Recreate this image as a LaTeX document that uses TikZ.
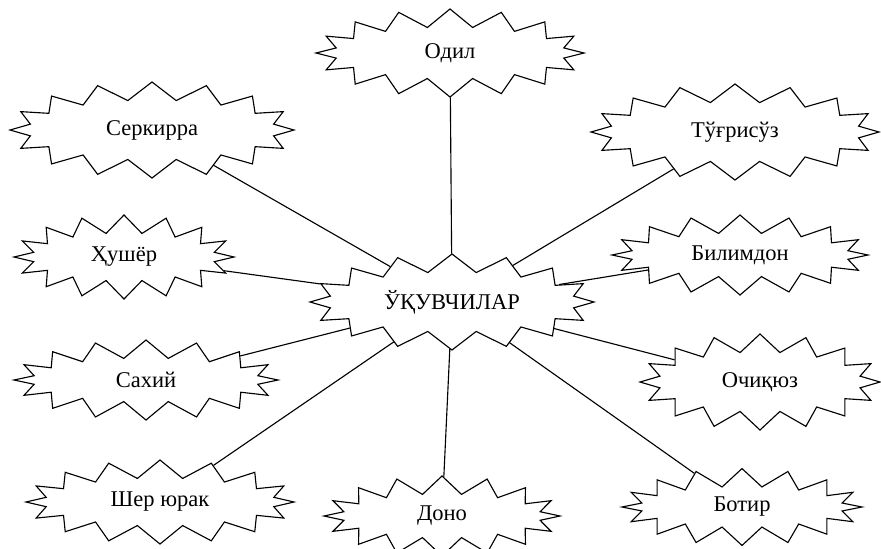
\documentclass[tikz,border=0pt]{standalone}
\usepackage{fontspec}
\setmainfont{Liberation Serif}
\usetikzlibrary{shapes.symbols}
\begin{document}
\begin{tikzpicture}[x=0.025cm,y=-0.025cm,
    burst/.style={draw, starburst, starburst points=16, starburst point height=0.45cm,
      shape border rotate=11.25, random starburst=0, line width=0.8pt, fill=white,
      font=\fontsize{16}{19}\selectfont}]
  \useasboundingbox (0,0) rectangle (881,548);
  % the students in the middle
  \node[burst, minimum width=7.1cm, minimum height=2.4cm] (uquv) at (452,302) {ЎҚУВЧИЛАР};
  % qualities round them
  \node[burst, minimum width=6.7cm, minimum height=2.2cm] (odil) at (450,53) {Одил};
  \node[burst, minimum width=7.1cm, minimum height=2.4cm] (serk) at (152,130) {Серкирра};
  \node[burst, minimum width=7.2cm, minimum height=2.4cm] (tugr) at (735,132) {Тўғрисўз};
  \node[burst, minimum width=5.5cm, minimum height=2.1cm] (hush) at (124,257) {Ҳушёр};
  \node[burst, minimum width=6.4cm, minimum height=2.0cm] (bilim) at (740,255) {Билимдон};
  \node[burst, minimum width=6.6cm, minimum height=2.0cm] (sakh) at (146,380) {Сахий};
  \node[burst, minimum width=6.0cm, minimum height=2.4cm] (ochiq) at (760,382) {Очиқюз};
  \node[burst, minimum width=6.7cm, minimum height=2.1cm] (sher) at (160,502) {Шер юрак};
  \node[burst, minimum width=5.9cm, minimum height=2.0cm] (dono) at (442,516) {Доно};
  \node[burst, minimum width=6.0cm, minimum height=1.9cm] (botir) at (742,507) {Ботир};
  % connectors
  \foreach \n in {odil,serk,tugr,hush,bilim,sakh,ochiq,sher,dono,botir}
    \draw[line width=0.8pt] (uquv) -- (\n);
\end{tikzpicture}
\end{document}
